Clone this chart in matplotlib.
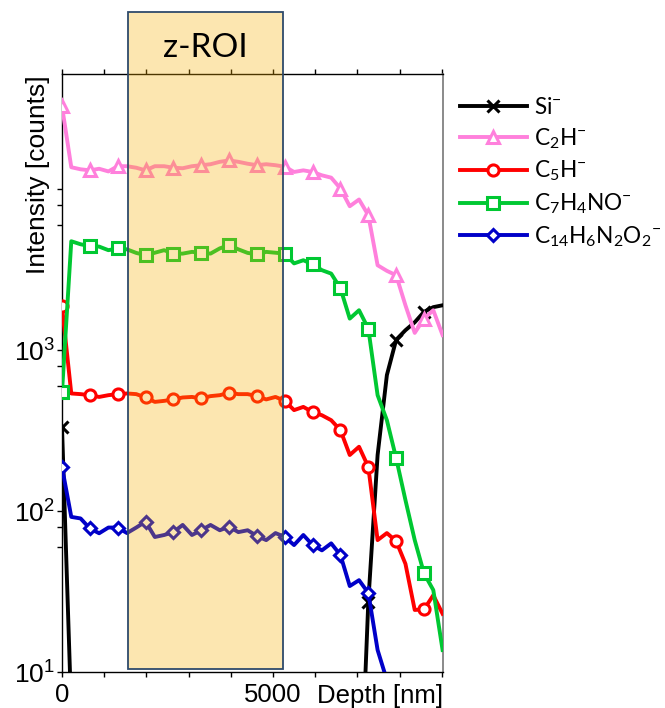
import matplotlib
matplotlib.use("Agg")
import matplotlib.pyplot as plt
from matplotlib.patches import Rectangle
from matplotlib.transforms import blended_transform_factory
from matplotlib.ticker import FixedLocator, NullLocator

# ---------------- data ----------------
depth_nm = [0, 220, 440, 660, 880, 1100, 1320, 1540, 1760, 1980,
            2200, 2420, 2640, 2860, 3080, 3300, 3520, 3740, 3960, 4180,
            4400, 4620, 4840, 5060, 5280, 5500, 5720, 5940, 6160, 6380,
            6600, 6820, 7040, 7260, 7480, 7700, 7920, 8140, 8360, 8580,
            8800, 9020]

si = [334, 5.6, 1, 1, 1, 1, 1, 1, 1, 1,
      1, 1, 1, 1, 1, 1, 1, 1, 1, 1,
      1, 1, 1, 1, 1, 1, 1, 1, 1, 1,
      1, 1, 1, 27.4, 223, 700, 1160, 1330, 1490, 1730,
      1850, 1900]

c2h = [32800, 13700, 13300, 13100, 13400, 12900, 13900, 13900, 13600, 13100,
       13900, 13900, 13600, 13500, 13900, 14100, 14300, 14800, 15100, 14800,
       14400, 14100, 14300, 14100, 13800, 12800, 13100, 12800, 12200, 11800,
       10100, 7840, 8630, 6900, 3370, 3110, 2920, 1900, 1280, 1570,
       1770, 1240]

c5h = [1870, 538, 533, 525, 512, 525, 533, 538, 533, 508,
       477, 484, 494, 508, 512, 501, 518, 525, 543, 533,
       533, 518, 494, 512, 484, 424, 444, 412, 394, 367,
       318, 223, 251, 188, 66, 73, 65, 47, 24.3, 24.5,
       30, 23]

c7h4no = [548, 4750, 4550, 4430, 4400, 4180, 4290, 4230, 4020, 3890,
          4030, 4180, 3980, 3980, 4080, 4030, 3980, 4290, 4490, 4230,
          4020, 3940, 4080, 4030, 3980, 3460, 3620, 3420, 3140, 2990,
          2420, 1570, 1770, 1360, 525, 367, 213, 117, 66, 41,
          32.3, 13.7]

c14 = [188, 92, 90, 78, 72.8, 79, 79, 73, 79, 86,
       69, 71, 74, 82, 71, 76, 82, 76, 80, 74,
       76, 70, 66, 73, 69, 61.5, 71, 61.5, 57, 63,
       53.3, 34.2, 37.2, 31.0, 13.7, 8.9, 5, 4, 3, 3,
       2.5, 2]

series_labels = [r"Si$\mathregular{^{-}}$",
                 r"C$\mathregular{_{2}}$H$\mathregular{^{-}}$",
                 r"C$\mathregular{_{5}}$H$\mathregular{^{-}}$",
                 r"C$\mathregular{_{7}}$H$\mathregular{_{4}}$NO$\mathregular{^{-}}$",
                 r"C$\mathregular{_{14}}$H$\mathregular{_{6}}$N$\mathregular{_{2}}$O$\mathregular{_{2}}$$\mathregular{^{-}}$"]

roi_nm = [1560, 5240]
x_tick_values = [0, 1000, 2000, 3000, 4000, 5000, 6000, 7000, 8000, 9000]
x_tick_labels = ["0", "", "", "", "", "5000", "", "", "", ""]
y_major = [10, 100, 1000, 10000]
y_major_labels = [r"$\mathregular{10^{1}}$", r"$\mathregular{10^{2}}$",
                  r"$\mathregular{10^{3}}$", ""]
y_minor = [60, 80, 600, 800, 6000, 8000]

# ---------------- figure ----------------
W, H = 665, 708
fig = plt.figure(figsize=(W / 100, H / 100), dpi=100)
ax = fig.add_axes([62 / W, 1 - 672 / H, (443 - 62) / W, (672 - 74) / H])

styles = [
    dict(color="black", marker="x", mfc="black", ms=8),
    dict(color="#FF80DC", marker="^"),
    dict(color="#FF0000", marker="o"),
    dict(color="#00C832", marker="s"),
    dict(color="#0000C8", marker="D", ms=6),
]
handles = []
for ys, st, lab in zip([si, c2h, c5h, c7h4no, c14], styles, series_labels):
    kw = dict(lw=2.8, ms=8, mew=2.2, mfc="white", markevery=3, zorder=3)
    kw.update(st)
    (ln,) = ax.plot(depth_nm, ys, label=lab, **kw)
    handles.append(ln)

ax.set_yscale("log")
ax.set_xlim(0, 9030)
ax.set_ylim(10, 5.2e4)

ax.xaxis.set_major_locator(FixedLocator(x_tick_values))
ax.set_xticklabels(x_tick_labels)
ax.xaxis.set_minor_locator(NullLocator())
ax.yaxis.set_major_locator(FixedLocator(y_major))
ax.set_yticklabels(y_major_labels)
ax.yaxis.set_minor_locator(FixedLocator(y_minor))

tickfont = "Liberation Sans"
ax.tick_params(axis="both", which="both", direction="out", length=3.6, width=1.0,
               labelsize=19, pad=1.5)
ax.tick_params(axis="x", top=True, pad=4.5, labelsize=18.5)
for lab in ax.get_xticklabels() + ax.get_yticklabels():
    lab.set_family(tickfont)
for s in ["left", "bottom", "top"]:
    ax.spines[s].set_linewidth(1.0)
ax.spines["right"].set_color("#777777")
ax.spines["right"].set_linewidth(1.2)

# x label at the right end, level with the tick labels
ax.text(1.0, -0.0195, "Depth [nm]", transform=ax.transAxes, ha="right", va="top",
        fontsize=18.5, family=tickfont)
fig.text(38 / W, 1 - 175 / H, "Intensity [counts]", rotation=90, ha="center",
         va="center", fontsize=19, family=tickfont)

# z-ROI box (data x, figure y), drawn over the lines
trans = blended_transform_factory(ax.transData, fig.transFigure)
y0 = 1 - 669 / H
y1 = 1 - 12 / H
rect = Rectangle((roi_nm[0], y0), roi_nm[1] - roi_nm[0], y1 - y0, transform=trans,
                 facecolor=(0.973, 0.686, 0.0, 0.31), edgecolor="#2E4A6B", lw=1.3,
                 clip_on=False, zorder=4)
ax.add_patch(rect)
ax.text((roi_nm[0] + roi_nm[1]) / 2, 1 - 48 / H, "z-ROI", transform=trans,
        ha="center", va="center", fontsize=24, family="Lato", zorder=5)

ax.set_xlim(0, 9030)

leg = fig.legend(handles=handles, loc="upper left",
                 bbox_to_anchor=(460 / W, 1 - 97 / H), frameon=False,
                 prop=dict(family="Lato", size=16.3), handlelength=2.95,
                 handletextpad=0.3, labelspacing=0.36, borderpad=0,
                 borderaxespad=0, numpoints=1)

fig.savefig("out.png", dpi=100)
